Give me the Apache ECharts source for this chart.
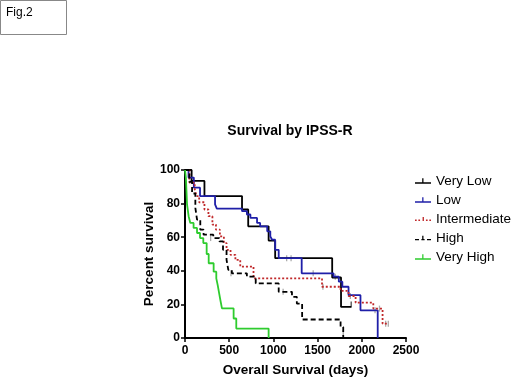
<!DOCTYPE html>
<html>
<head>
<meta charset="utf-8">
<script src="https://cdn.jsdelivr.net/npm/echarts@6/dist/echarts.min.js"></script>
<style>
  html, body { margin: 0; padding: 0; background: #fff; }
  #main { width: 520px; height: 390px; }
</style>
</head>
<body>
<div id="main"></div>
<script>
// Kaplan-Meier curves: [days, percent survival]
var veryLow = [[0,100],[75,93.5],[220,84.5],[645,76.5],[715,66.5],[946,58],[1020,47.5],[1665,36],[1765,18.5],[1880,18.5]];
var low = [[0,100],[40,95.5],[100,89.5],[170,84.5],[340,79.5],[360,77],[645,75.5],[700,73.5],[740,71.5],[815,68.5],[850,66.5],[930,63.5],[965,60.5],[985,58.5],[1020,52.5],[1060,47.5],[1320,38.5],[1680,36.5],[1740,33.5],[1780,30.5],[1850,25.5],[1985,16.5],[2180,16.5],[2180,0]];
var intermediate = [[0,100],[50,92.5],[110,88.5],[130,84.5],[160,80.8],[220,76.5],[265,72.5],[310,67.5],[350,64.5],[395,60.5],[440,56.5],[470,52.5],[515,49.5],[570,46.5],[625,42.5],[775,35.5],[1550,30.5],[1760,28],[1850,25],[1930,21],[2130,17.5],[2235,8.5],[2300,8.5]];
var high = [[0,100],[50,93],[80,86],[117,77.5],[136,70.5],[173,64.5],[210,61.5],[320,59.5],[390,57.5],[430,52.5],[470,46.5],[490,40.5],[530,38.5],[700,36.5],[800,32.5],[1060,27.5],[1210,24.5],[1265,20.5],[1325,11],[1760,6.5],[1790,6.5],[1790,0]];
var veryHigh = [[0,100],[10,95.5],[15,89.5],[23,79.5],[41,72.5],[60,68.5],[97,65.5],[136,62.5],[170,59.5],[207,56.5],[245,50],[268,44.5],[324,39.5],[354,35.5],[370,31.5],[385,27],[400,22.6],[418,17.6],[550,11.6],[580,5.6],[946,5.6],[946,0]];

// censored observations (small vertical ticks)
var censorVeryLow = [[1880,20]];
var censorLow = [[1150,47.5],[1200,47.5],[1450,38.5],[1700,36.5],[2150,16.5]];
var censorIntermediate = [[1560,30.5],[1870,25],[2200,17.5],[2270,8.5],[2300,8.5]];
var censorHigh = [[290,59.5],[520,38.5],[1110,27.5],[1790,3]];

var seriesNames = ['Very Low', 'Low', 'Intermediate', 'High', 'Very High'];
var xTicks = [0, 500, 1000, 1500, 2000, 2500];
var yTicks = [0, 20, 40, 60, 80, 100];

var colors = ['#000000', '#1f1fa8', '#c0282a', '#000000', '#2ecc2e'];
var iconSolid = 'path://M0,5h20v1.6H0z M9,0h1.6v6.6H9z';
var iconDotted = 'path://M0,5h2v1.6H0z M4,5h2v1.6H4z M9,2h1.6v4.6H9z M13,5h2v1.6H13z M17,5h2v1.6H17z';
var iconDashed = 'path://M0,5h5v1.6H0z M8,5h4v1.6H8z M9,1h1.6v5.6H9z M15,5h5v1.6H15z';

var chartDom = document.getElementById('main');
var myChart = echarts.init(chartDom);

function curve(name, data, color, type) {
  return {
    name: name,
    type: 'line',
    step: 'end',
    data: data,
    showSymbol: false,
    symbol: 'none',
    silent: true,
    animation: false,
    lineStyle: { color: color, width: 1.8, type: type },
    itemStyle: { color: color }
  };
}
function ticks(data, color) {
  return {
    type: 'scatter',
    data: data,
    symbol: 'rect',
    symbolSize: [1.3, 6],
    silent: true,
    animation: false,
    itemStyle: { color: color, opacity: 0.7 }
  };
}

var option = {
  backgroundColor: '#fff',
  animation: false,
  textStyle: { fontFamily: 'Liberation Sans' },
  title: {
    text: 'Survival by IPSS-R',
    left: 285,
    textAlign: 'center',
    top: 119,
    textStyle: { fontSize: 14, fontWeight: 'bold', color: '#000', fontFamily: 'Liberation Sans' }
  },
  legend: {
    orient: 'vertical',
    left: 410,
    top: 169,
    itemGap: 5,
    itemWidth: 16,
    itemHeight: 14,
    textStyle: { fontSize: 13.5, color: '#000', fontFamily: 'Liberation Sans' },
    data: [
      { name: seriesNames[0], icon: iconSolid },
      { name: seriesNames[1], icon: iconSolid },
      { name: seriesNames[2], icon: iconDotted },
      { name: seriesNames[3], icon: iconDashed },
      { name: seriesNames[4], icon: iconSolid }
    ]
  },
  grid: { left: 185, top: 170, width: 221, height: 168 },
  xAxis: {
    type: 'value',
    min: xTicks[0],
    max: xTicks[xTicks.length - 1],
    interval: 500,
    name: 'Overall Survival (days)',
    nameLocation: 'middle',
    nameGap: 25,
    nameTextStyle: { fontSize: 13.5, fontWeight: 'bold', color: '#000' },
    axisLine: { lineStyle: { color: '#000', width: 2 } },
    axisTick: { length: 4, lineStyle: { color: '#000', width: 1.5 } },
    axisLabel: {
      color: '#000', fontSize: 12, fontWeight: 'bold', margin: 7,
      formatter: function (v) { return String(v); }
    },
    splitLine: { show: false }
  },
  yAxis: {
    type: 'value',
    min: yTicks[0],
    max: yTicks[yTicks.length - 1],
    interval: 20,
    name: 'Percent survival',
    nameLocation: 'middle',
    nameGap: 28,
    nameTextStyle: { fontSize: 13.5, fontWeight: 'bold', color: '#000' },
    axisLine: { show: true, lineStyle: { color: '#000', width: 2 } },
    axisTick: { show: true, length: 4, lineStyle: { color: '#000', width: 1.5 } },
    axisLabel: { color: '#000', fontSize: 12, fontWeight: 'bold', margin: 5 },
    splitLine: { show: false }
  },
  graphic: [
    {
      type: 'rect',
      shape: { x: 0.5, y: 0.5, width: 66, height: 34 },
      style: { fill: 'none', stroke: '#888', lineWidth: 1 }
    },
    {
      type: 'text',
      left: 6,
      top: 7,
      style: { text: 'Fig.2', fontSize: 12, fill: '#000', fontFamily: 'Liberation Sans' }
    }
  ],
  series: [
    curve(seriesNames[0], veryLow, colors[0], 'solid'),
    curve(seriesNames[1], low, colors[1], 'solid'),
    curve(seriesNames[2], intermediate, colors[2], [2, 2]),
    curve(seriesNames[3], high, colors[3], [5, 3]),
    curve(seriesNames[4], veryHigh, colors[4], 'solid'),
    ticks(censorVeryLow, colors[0]),
    ticks(censorLow, '#888'),
    ticks(censorIntermediate, '#888'),
    ticks(censorHigh, '#888')
  ]
};

myChart.setOption(option);
</script>
</body>
</html>
